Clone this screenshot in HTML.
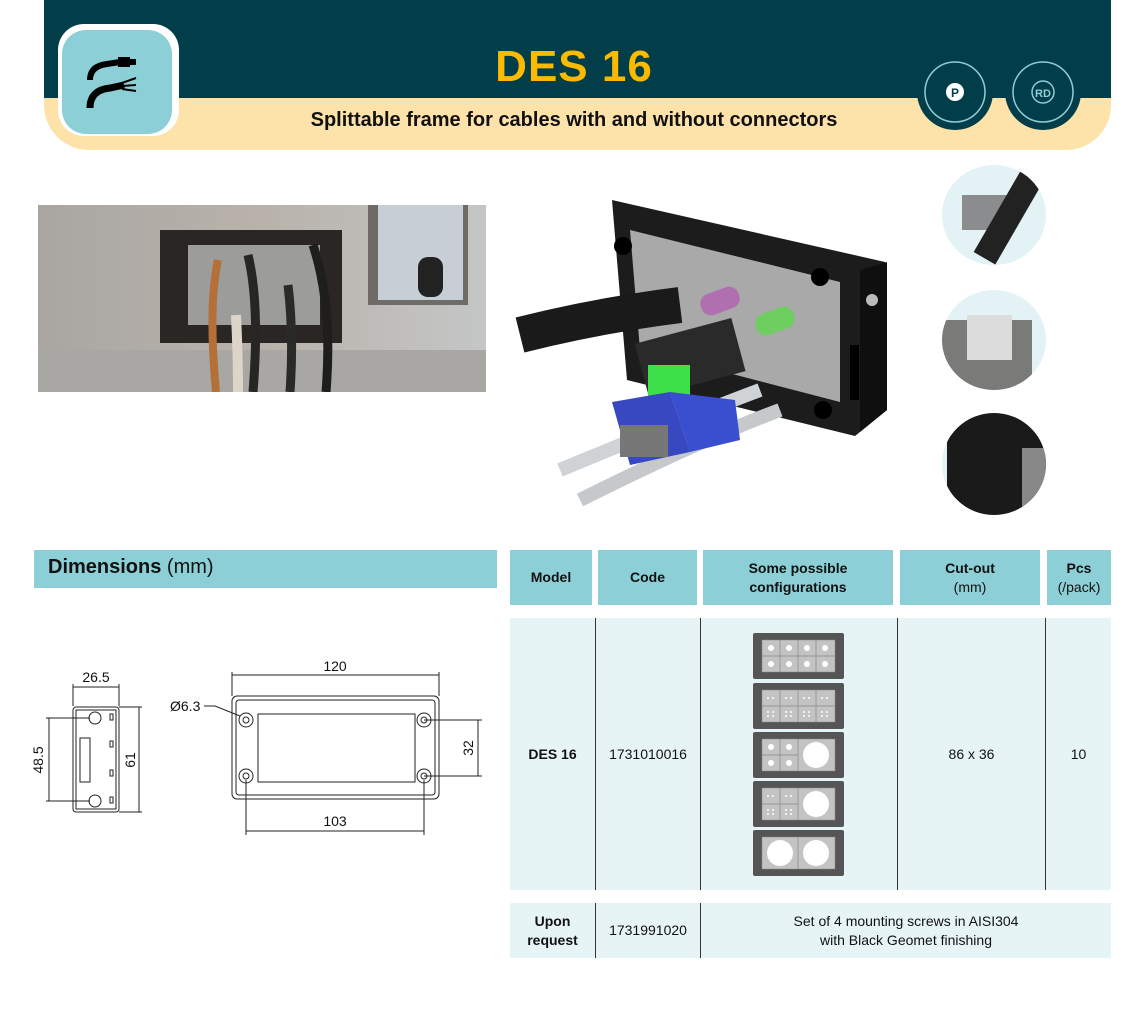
<!DOCTYPE html>
<html><head><meta charset="utf-8"><style>
*{margin:0;padding:0;box-sizing:border-box}
body{width:1148px;height:1024px;background:#fff;position:relative;overflow:hidden;font-family:"Liberation Sans",sans-serif;color:#111}
.a{position:absolute}
.th{position:absolute;top:550px;height:55px;background:#8ccfd6;display:flex;align-items:center;justify-content:center;text-align:center;font-weight:bold;font-size:14px;line-height:19px;color:#111}
.th span{font-weight:normal}
.td{position:absolute;display:flex;align-items:center;justify-content:center;text-align:center;font-size:14px;line-height:19px}
.vl{position:absolute;width:1px;background:#333}
</style></head><body>
<!-- header -->
<div class="a" style="left:44px;top:0;width:1067px;height:150px;background:#fde2a9;border-radius:0 0 45px 45px"></div>
<div class="a" style="left:44px;top:0;width:1067px;height:98px;background:#023d4a"></div>
<div class="a" style="left:58px;top:24px;width:121px;height:112px;background:#fff;border-radius:26px"></div>
<div class="a" style="left:62px;top:30px;width:110px;height:104px;background:#8ccfd6;border-radius:24px"></div>
<svg class="a" style="left:62px;top:30px" width="110" height="104">
<path d="M28 50 Q28 36 45 34 L58 32" stroke="#000" stroke-width="6" fill="none"/>
<rect x="56" y="27" width="12" height="10" fill="#000"/><rect x="68" y="29" width="6" height="6" fill="#000"/>
<path d="M28 78 Q28 60 48 58 L62 55" stroke="#000" stroke-width="7" fill="none"/>
<path d="M60 53 L74 48 M60 56 L74 55 M60 59 L74 61" stroke="#000" stroke-width="2"/>
</svg>
<div class="a" style="left:0;width:1148px;top:42px;text-align:center;font-size:44px;font-weight:bold;color:#fbb900;letter-spacing:1px">DES 16</div>
<div class="a" style="left:0;width:1148px;top:109px;text-align:center;font-size:20px;font-weight:bold;color:#111">Splittable frame for cables with and without connectors</div>
<svg class="a" style="left:915px;top:52px" width="180" height="82">
<circle cx="40" cy="40" r="38" fill="#023d4a"/><circle cx="40" cy="40" r="30" fill="none" stroke="#8ccfd6" stroke-width="1.5"/>
<circle cx="40" cy="40" r="9" fill="#fff"/><text x="40" y="45" font-size="12" font-weight="bold" text-anchor="middle" fill="#023d4a">P</text>
<circle cx="128" cy="40" r="38" fill="#023d4a"/><circle cx="128" cy="40" r="30" fill="none" stroke="#8ccfd6" stroke-width="1.5"/>
<circle cx="128" cy="40" r="11" fill="none" stroke="#8ccfd6" stroke-width="1.5"/><text x="128" y="45" font-size="11" font-weight="bold" text-anchor="middle" fill="#8ccfd6">RD</text>
</svg>
<!-- left photo -->
<svg class="a" style="left:38px;top:205px" width="448" height="187">
<defs><linearGradient id="g1" x1="0" x2="1"><stop offset="0" stop-color="#a9a6a2"/><stop offset=".5" stop-color="#b8b2aa"/><stop offset="1" stop-color="#c4c6c6"/></linearGradient></defs>
<rect width="448" height="187" fill="url(#g1)"/>
<rect x="0" y="145" width="448" height="42" fill="#a8a7a3"/>
<rect x="330" y="0" width="100" height="100" fill="#6f6b66"/>
<rect x="340" y="0" width="85" height="95" fill="#c8ced6"/>
<rect x="380" y="52" width="25" height="40" rx="10" fill="#222"/>
<rect x="122" y="25" width="182" height="113" fill="#2a2624"/>
<rect x="150" y="40" width="132" height="80" fill="#9c9c9a"/>
<path d="M180 55 Q170 100 178 187" stroke="#b5703a" stroke-width="8" fill="none"/>
<path d="M210 50 Q222 100 215 187" stroke="#272624" stroke-width="9" fill="none"/>
<path d="M250 80 Q256 130 252 187" stroke="#2a2a28" stroke-width="9" fill="none"/>
<path d="M275 40 Q295 100 288 187" stroke="#1e1e1c" stroke-width="9" fill="none"/>
<path d="M198 110 Q200 150 200 187" stroke="#ddd6c8" stroke-width="10" fill="none"/>
</svg>
<!-- product image -->
<svg class="a" style="left:500px;top:170px" width="400" height="340">
<polygon points="112,30 385,92 387,240 355,266 127,210" fill="#1c1c1c"/>
<polygon points="360,100 387,92 387,240 360,262" fill="#0f0f0f"/>
<polygon points="130,60 340,112 340,232 140,180" fill="#a9a9aa"/>
<circle cx="123" cy="76" r="9" fill="#000"/><circle cx="320" cy="107" r="9" fill="#000"/><circle cx="323" cy="240" r="9" fill="#000"/>
<circle cx="372" cy="130" r="6" fill="#bbb"/><rect x="350" y="175" width="9" height="55" fill="#000"/>
<path d="M20 165 Q100 145 180 135" stroke="#1a1a1a" stroke-width="36" fill="none"/>
<rect x="200" y="120" width="40" height="22" rx="10" fill="#b070b0" transform="rotate(-20 220 131)"/>
<rect x="255" y="140" width="40" height="22" rx="10" fill="#6fce60" transform="rotate(-20 275 151)"/>
<rect x="140" y="160" width="100" height="55" fill="#2a2a2a" transform="rotate(-15 190 187)"/>
<rect x="148" y="195" width="42" height="35" fill="#3ee04a"/>
<path d="M60 300 Q180 250 260 220" stroke="#d0d3d6" stroke-width="14" fill="none"/>
<path d="M80 330 Q200 270 280 240" stroke="#c6c9cc" stroke-width="14" fill="none"/>
<polygon points="112,232 170,222 190,282 130,295" fill="#3848c0"/>
<polygon points="170,222 235,230 240,270 190,282" fill="#3a4fd0"/>
<rect x="120" y="255" width="48" height="32" fill="#777"/>
</svg>
<!-- circles -->
<div class="a" style="left:942px;top:165px;width:104px;height:100px;border-radius:50%;background:#e3f3f5;overflow:hidden"><div style="position:absolute;left:20px;top:30px;width:50px;height:35px;background:#8a8c8e"></div><div style="position:absolute;left:55px;top:0;width:25px;height:100px;background:#222;transform:rotate(30deg)"></div></div>
<div class="a" style="left:942px;top:290px;width:104px;height:100px;border-radius:50%;background:#e3f3f5;overflow:hidden"><div style="position:absolute;left:0;top:30px;width:90px;height:70px;background:#7a7a78"></div><div style="position:absolute;left:25px;top:25px;width:45px;height:45px;background:#dcdcdc"></div></div>
<div class="a" style="left:942px;top:413px;width:104px;height:102px;border-radius:50%;background:#e3f3f5;overflow:hidden"><div style="position:absolute;left:5px;top:0;width:100px;height:102px;background:#1a1a1a"></div><div style="position:absolute;left:80px;top:35px;width:24px;height:60px;background:#888"></div></div>
<!-- dimensions -->
<div class="a" style="left:34px;top:550px;width:463px;height:38px;background:#8ccfd6;font-size:20px;padding:6px 14px;color:#111"><b>Dimensions</b> (mm)</div>
<svg class="a" style="left:30px;top:640px" width="470" height="200" font-family="Liberation Sans" font-size="14" fill="#111">
<g stroke="#222" fill="none" stroke-width="1">
<rect x="43" y="67" width="46" height="105" rx="3"/><rect x="46" y="70" width="40" height="99"/>
<circle cx="65" cy="78" r="6"/><circle cx="65" cy="161" r="6"/>
<rect x="50" y="98" width="10" height="44"/>
<rect x="80" y="74" width="3" height="6"/><rect x="80" y="101" width="3" height="6"/><rect x="80" y="130" width="3" height="6"/><rect x="80" y="157" width="3" height="6"/>
<path d="M43 44 V66 M89 44 V66 M43 47 H89"/>
<path d="M16 78 H60 M16 161 H60 M19 78 V161"/>
<path d="M89 67 H112 M89 172 H112 M109 67 V172"/>
<rect x="202" y="56" width="207" height="103" rx="5"/><rect x="206" y="60" width="199" height="95" rx="3"/>
<rect x="228" y="74" width="157" height="68"/>
<circle cx="216" cy="80" r="7"/><circle cx="216" cy="80" r="3"/>
<circle cx="216" cy="136" r="7"/><circle cx="216" cy="136" r="3"/>
<circle cx="394" cy="80" r="7"/><circle cx="394" cy="80" r="3"/>
<circle cx="394" cy="136" r="7"/><circle cx="394" cy="136" r="3"/>
<path d="M202 32 V56 M409 32 V56 M202 35 H409"/>
<path d="M216 140 V195 M394 140 V195 M216 191 H394"/>
<path d="M394 80 H452 M394 136 H452 M448 80 V136"/>
<path d="M174 66 H185 L210 76"/>
</g>
<text x="66" y="42" text-anchor="middle">26.5</text>
<text x="305" y="31" text-anchor="middle">120</text>
<text x="305" y="186" text-anchor="middle">103</text>
<text x="140" y="71">Ø6.3</text>
<text transform="translate(13 120) rotate(-90)" text-anchor="middle">48.5</text>
<text transform="translate(105 120) rotate(-90)" text-anchor="middle">61</text>
<text transform="translate(443 108) rotate(-90)" text-anchor="middle">32</text>
</svg>
<!-- table -->
<div class="th" style="left:510px;width:82px">Model</div>
<div class="th" style="left:598px;width:99px">Code</div>
<div class="th" style="left:703px;width:190px"><div>Some possible<br>configurations</div></div>
<div class="th" style="left:900px;width:140px"><div>Cut-out<br><span>(mm)</span></div></div>
<div class="th" style="left:1047px;width:64px"><div>Pcs<br><span>(/pack)</span></div></div>
<div class="a" style="left:510px;top:618px;width:601px;height:272px;background:#e6f4f6"></div>
<div class="vl" style="left:595px;top:618px;height:272px"></div>
<div class="vl" style="left:700px;top:618px;height:272px"></div>
<div class="vl" style="left:897px;top:618px;height:272px"></div>
<div class="vl" style="left:1045px;top:618px;height:272px"></div>
<div class="td" style="left:510px;width:85px;top:618px;height:272px;font-weight:bold">DES 16</div>
<div class="td" style="left:596px;width:104px;top:618px;height:272px">1731010016</div>
<div class="td" style="left:898px;width:147px;top:618px;height:272px">86 x 36</div>
<div class="td" style="left:1046px;width:65px;top:618px;height:272px">10</div>
<svg class="a" style="left:753px;top:633px" width="93" height="245">
<g fill="#555"><rect x="0" y="0" width="91" height="46" rx="2"/><rect x="0" y="50" width="91" height="46" rx="2"/><rect x="0" y="99" width="91" height="46" rx="2"/><rect x="0" y="148" width="91" height="46" rx="2"/><rect x="0" y="197" width="91" height="46" rx="2"/></g>
<g fill="#c3c3c3" stroke="#888" stroke-width=".5">
<rect x="9" y="7" width="73" height="32"/><rect x="9" y="57" width="73" height="32"/><rect x="9" y="106" width="73" height="32"/><rect x="9" y="155" width="73" height="32"/><rect x="9" y="204" width="73" height="32"/></g>
<g stroke="#888" stroke-width=".7"><path d="M27 7V39M45 7V39M63 7V39M9 23H82M27 57V89M45 57V89M63 57V89M9 73H82M27 106V138M45 106V138M9 122H45M27 155V187M45 155V187M9 171H45M45 204V236"/></g>
<g fill="#fff"><circle cx="18" cy="15" r="3"/><circle cx="36" cy="15" r="3"/><circle cx="54" cy="15" r="3"/><circle cx="72" cy="15" r="3"/><circle cx="18" cy="31" r="3"/><circle cx="36" cy="31" r="3"/><circle cx="54" cy="31" r="3"/><circle cx="72" cy="31" r="3"/>
<circle cx="18" cy="114" r="3"/><circle cx="36" cy="114" r="3"/><circle cx="18" cy="130" r="3"/><circle cx="36" cy="130" r="3"/>
<circle cx="63" cy="122" r="13"/><circle cx="63" cy="171" r="13"/><circle cx="27" cy="220" r="13"/><circle cx="63" cy="220" r="13"/>
<circle cx="15" cy="65" r="1"/><circle cx="20" cy="65" r="1"/><circle cx="33" cy="65" r="1"/><circle cx="38" cy="65" r="1"/><circle cx="51" cy="65" r="1"/><circle cx="56" cy="65" r="1"/><circle cx="69" cy="65" r="1"/><circle cx="74" cy="65" r="1"/>
<circle cx="15" cy="79" r="1"/><circle cx="20" cy="79" r="1"/><circle cx="15" cy="83" r="1"/><circle cx="20" cy="83" r="1"/><circle cx="33" cy="79" r="1"/><circle cx="38" cy="79" r="1"/><circle cx="33" cy="83" r="1"/><circle cx="38" cy="83" r="1"/>
<circle cx="51" cy="79" r="1"/><circle cx="56" cy="79" r="1"/><circle cx="51" cy="83" r="1"/><circle cx="56" cy="83" r="1"/><circle cx="69" cy="79" r="1"/><circle cx="74" cy="79" r="1"/><circle cx="69" cy="83" r="1"/><circle cx="74" cy="83" r="1"/>
<circle cx="15" cy="163" r="1"/><circle cx="20" cy="163" r="1"/><circle cx="33" cy="163" r="1"/><circle cx="38" cy="163" r="1"/>
<circle cx="15" cy="177" r="1"/><circle cx="20" cy="177" r="1"/><circle cx="15" cy="181" r="1"/><circle cx="20" cy="181" r="1"/><circle cx="33" cy="177" r="1"/><circle cx="38" cy="177" r="1"/><circle cx="33" cy="181" r="1"/><circle cx="38" cy="181" r="1"/></g>
</svg>
<div class="a" style="left:510px;top:903px;width:601px;height:55px;background:#e6f4f6"></div>
<div class="vl" style="left:595px;top:903px;height:55px"></div>
<div class="vl" style="left:700px;top:903px;height:55px"></div>
<div class="td" style="left:510px;width:85px;top:903px;height:55px;font-weight:bold">Upon<br>request</div>
<div class="td" style="left:596px;width:104px;top:903px;height:55px">1731991020</div>
<div class="td" style="left:701px;width:410px;top:903px;height:55px">Set of 4 mounting screws in AISI304<br>with Black Geomet finishing</div>
</body></html>
